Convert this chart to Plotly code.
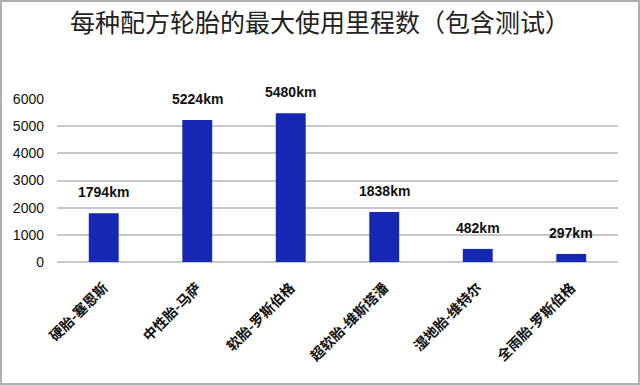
import plotly.graph_objects as go

categories = ["硬胎-塞恩斯", "中性胎-马萨", "软胎-罗斯伯格", "超软胎-维斯塔潘", "湿地胎-维特尔", "全雨胎-罗斯伯格"]
values = [1794, 5224, 5480, 1838, 482, 297]
labels = [f"{v}km" for v in values]
tick_vals = [0, 1000, 2000, 3000, 4000, 5000, 6000]

W, H = 640, 385
ml, mr, mt, mb = 57, 22, 99, 123
pw, ph = W - ml - mr, H - mt - mb

fig = go.Figure()
fig.add_trace(go.Bar(
    x=categories, y=values,
    marker=dict(color="#1428B4", line=dict(width=0)),
    width=0.32,
    hoverinfo="skip",
))
for c, v, t in zip(categories, values, labels):
    fig.add_annotation(x=c, y=v, text=f"<b>{t}</b>", showarrow=False,
                       yanchor="bottom", yshift=11,
                       font=dict(family="Liberation Sans, DejaVu Sans", size=14, color="#111"))

fig.update_layout(
    width=W, height=H,
    margin=dict(l=ml, r=mr, t=mt, b=mb, autoexpand=False),
    paper_bgcolor="white", plot_bgcolor="white",
    showlegend=False,
    title=dict(text="每种配方轮胎的最大使用里程数（包含测试）", x=0.5, xref="container", xanchor="center",
               y=1 - 23 / H, yanchor="middle",
               font=dict(family="Noto Sans CJK SC", size=25, color="#222")),
    xaxis=dict(tickangle=-45, showgrid=False, showline=False, ticks="", automargin=False,
               ticklabelstandoff=14,
               tickprefix="<b>", ticksuffix="</b>",
               tickfont=dict(family="Noto Sans CJK SC", size=14, color="#111")),
    yaxis=dict(range=[0, 6000], tickvals=tick_vals, showgrid=True, gridcolor="#c8c8c8",
               gridwidth=1.5, zeroline=True, zerolinecolor="#c8c8c8", zerolinewidth=1.5,
               showline=False, ticks="", ticklabelstandoff=12, automargin=False,
               tickfont=dict(family="Liberation Sans, DejaVu Sans", size=14, color="#111"),
               tickprefix="<b>", ticksuffix="</b>"),
    shapes=[dict(type="rect", xref="paper", yref="paper",
                 x0=-(ml - 1) / pw, x1=1 + (mr - 1) / pw,
                 y0=-(mb - 1) / ph, y1=1 + (mt - 1) / ph,
                 line=dict(color="#b0b0b0", width=2))],
)
fig.write_html("out.html", config={"displayModeBar": False},
               post_script="document.body.style.margin='0';")
